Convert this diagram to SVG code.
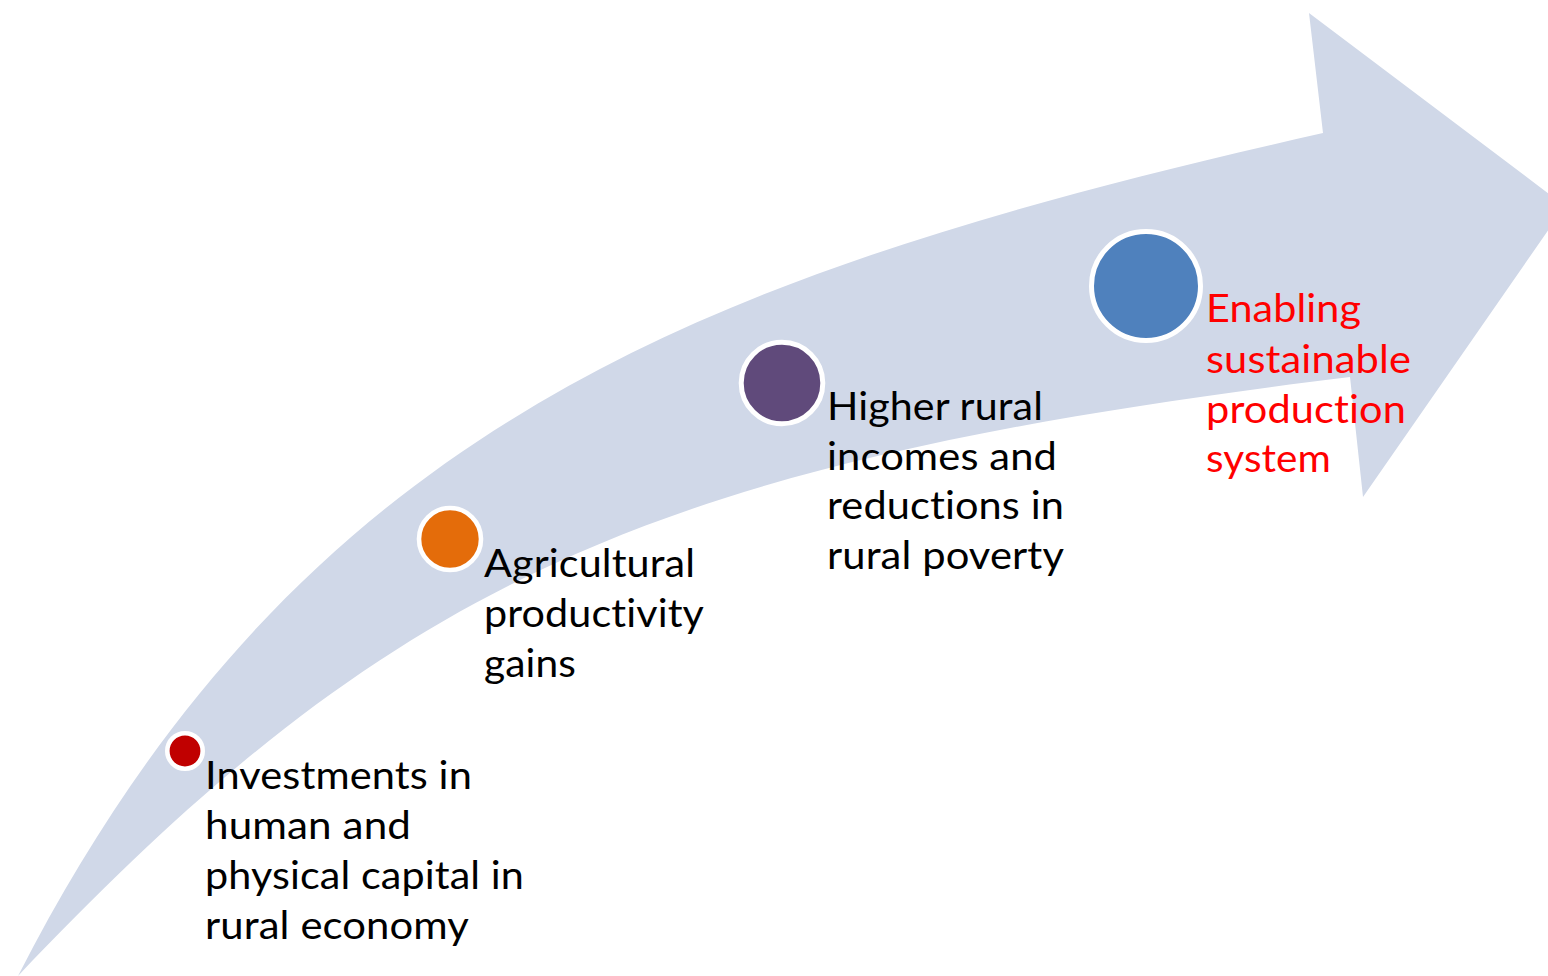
<svg xmlns="http://www.w3.org/2000/svg" width="1548" height="976" viewBox="0 0 1548 976">
  <style>
    .band { fill: #D0D8E8; }
    .dot { stroke: #FFFFFF; }
    .label { font-family: Lato, "Open Sans", "Liberation Sans", sans-serif; font-size: 38px; fill: #000000; font-variant-ligatures: none; font-feature-settings: "liga" 0, "dlig" 0, "calt" 0; letter-spacing: 0.1px; }
    .goal { fill: #FF0000; }
  </style>
  <rect width="1548" height="976" fill="#FFFFFF"/>

  <!-- curved block arrow rising from bottom-left to the right edge -->
  <g id="connectors">
    <path class="band" d="M 18 976 C 300 425, 700 274, 1323 133 L 1309 13 L 1565 206 L 1363 497 L 1350 377 C 655 462, 396 577, 18 976 Z"/>
  </g>

  <g id="node-investments">
    <circle class="dot" cx="185" cy="751" r="17.7" fill="#C00000" stroke-width="4.6"/>
    <text class="label" x="205" y="789" textLength="267" lengthAdjust="spacingAndGlyphs">Investments in</text>
    <text class="label" x="205" y="839" textLength="206" lengthAdjust="spacingAndGlyphs">human and</text>
    <text class="label" x="205" y="889" textLength="319" lengthAdjust="spacingAndGlyphs">physical capital in</text>
    <text class="label" x="205" y="939" textLength="264" lengthAdjust="spacingAndGlyphs">rural economy</text>
  </g>

  <g id="node-productivity">
    <circle class="dot" cx="450" cy="539" r="31" fill="#E46C0A" stroke-width="4.6"/>
    <text class="label" x="484" y="577" textLength="211" lengthAdjust="spacingAndGlyphs">Agricultural</text>
    <text class="label" x="484" y="627" textLength="220" lengthAdjust="spacingAndGlyphs">productivity</text>
    <text class="label" x="484" y="677" textLength="92" lengthAdjust="spacingAndGlyphs">gains</text>
  </g>

  <g id="node-incomes">
    <circle class="dot" cx="782" cy="383" r="40.8" fill="#604A7B" stroke-width="5"/>
    <text class="label" x="827" y="420" textLength="216" lengthAdjust="spacingAndGlyphs">Higher rural</text>
    <text class="label" x="827" y="470" textLength="230" lengthAdjust="spacingAndGlyphs">incomes and</text>
    <text class="label" x="827" y="519" textLength="237" lengthAdjust="spacingAndGlyphs">reductions in</text>
    <text class="label" x="827" y="569" textLength="237" lengthAdjust="spacingAndGlyphs">rural poverty</text>
  </g>

  <g id="node-sustainable">
    <circle class="dot" cx="1146" cy="286" r="54.5" fill="#4F81BD" stroke-width="5"/>
    <text class="label goal" x="1206" y="322" textLength="155" lengthAdjust="spacingAndGlyphs">Enabling</text>
    <text class="label goal" x="1206" y="373" textLength="205" lengthAdjust="spacingAndGlyphs">sustainable</text>
    <text class="label goal" x="1206" y="423" textLength="200" lengthAdjust="spacingAndGlyphs">production</text>
    <text class="label goal" x="1206" y="472" textLength="125" lengthAdjust="spacingAndGlyphs">system</text>
  </g>
</svg>
